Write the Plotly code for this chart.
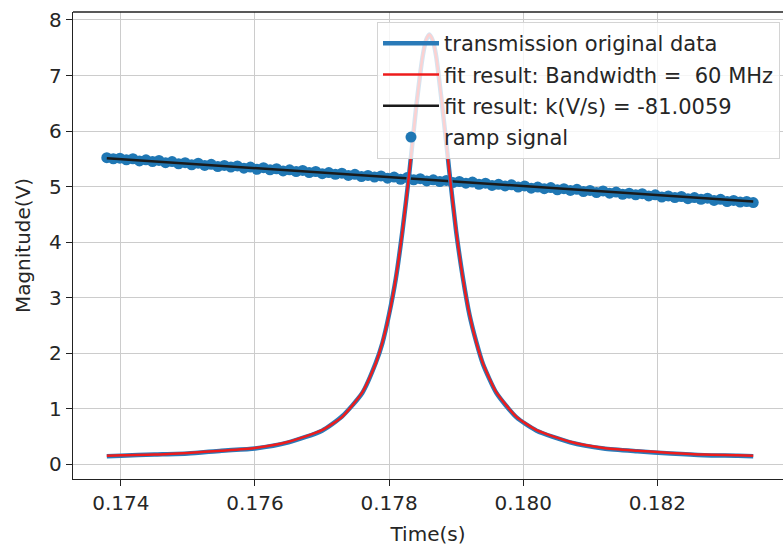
import numpy as np
import plotly.graph_objects as go

# --- Transmission peak (time in s, magnitude in V) ---
peak_time = [0.17379, 0.1740, 0.1745, 0.1750, 0.1755, 0.1760, 0.1765, 0.1770, 0.1773, 0.1776,
             0.1778, 0.1779, 0.1780, 0.1781, 0.1782, 0.1783, 0.1784, 0.1785, 0.17855, 0.1786,
             0.17865, 0.1787, 0.1788, 0.1789, 0.1790, 0.1791, 0.1792, 0.1793, 0.1794, 0.1796,
             0.1799, 0.1802, 0.1807, 0.1812, 0.1817, 0.1822, 0.1827, 0.1832, 0.18343]
transmission = [0.14, 0.15, 0.17, 0.19, 0.24, 0.28, 0.39, 0.60, 0.86, 1.28,
                1.82, 2.18, 2.70, 3.34, 4.21, 5.23, 6.39, 7.34, 7.63, 7.74,
                7.63, 7.36, 6.37, 5.25, 4.19, 3.36, 2.68, 2.20, 1.80, 1.28,
                0.84, 0.60, 0.39, 0.28, 0.23, 0.19, 0.16, 0.15, 0.14]
fit_lorentz = [0.15, 0.16, 0.17, 0.20, 0.24, 0.29, 0.40, 0.61, 0.85, 1.29,
               1.81, 2.19, 2.69, 3.35, 4.20, 5.24, 6.38, 7.35, 7.64, 7.74,
               7.64, 7.35, 6.38, 5.24, 4.20, 3.35, 2.69, 2.19, 1.81, 1.29,
               0.85, 0.61, 0.40, 0.29, 0.24, 0.20, 0.17, 0.16, 0.15]

# --- Ramp signal ---
ramp_start, ramp_end = 0.17379, 0.18343
ramp_values = [5.52, 5.50, 5.51, 5.48, 5.50, 5.46, 5.48, 5.45, 5.47, 5.43,
               5.45, 5.41, 5.43, 5.39, 5.42, 5.38, 5.40, 5.36, 5.38, 5.35,
               5.37, 5.33, 5.35, 5.31, 5.34, 5.30, 5.32, 5.28, 5.30, 5.27,
               5.29, 5.25, 5.27, 5.23, 5.25, 5.22, 5.24, 5.20, 5.22, 5.18,
               5.20, 5.17, 5.19, 5.15, 5.17, 5.13, 5.16, 5.12, 5.14, 5.10,
               5.12, 5.09, 5.11, 5.07, 5.09, 5.06, 5.08, 5.04, 5.06, 5.02,
               5.04, 5.01, 5.03, 4.99, 5.01, 4.97, 4.99, 4.96, 4.98, 4.94,
               4.96, 4.93, 4.95, 4.91, 4.93, 4.89, 4.92, 4.88, 4.90, 4.86,
               4.88, 4.85, 4.87, 4.83, 4.85, 4.81, 4.83, 4.80, 4.82, 4.78,
               4.80, 4.77, 4.79, 4.75, 4.77, 4.73, 4.75, 4.72, 4.73, 4.71]
ramp_time = np.linspace(ramp_start, ramp_end, len(ramp_values))
ramp_fit_time = [ramp_start, ramp_end]
ramp_fit_values = [5.51, 4.73]

x_ticks = [0.174, 0.176, 0.178, 0.180, 0.182]
y_ticks = [0, 1, 2, 3, 4, 5, 6, 7, 8]

FONT = "DejaVu Sans"
TXT = "#262626"
fig = go.Figure()

fig.add_trace(go.Scatter(x=ramp_time, y=ramp_values, mode="markers", name="ramp signal",
                         marker=dict(color="#1f77b4", size=11, line=dict(width=0)),
                         legendrank=4, legendgroup="d"))
fig.add_trace(go.Scatter(x=ramp_fit_time, y=ramp_fit_values, mode="lines",
                         name="fit result: k(V/s) = -81.0059",
                         line=dict(color="#1a1a1a", width=2.5), legendrank=3, legendgroup="c"))
fig.add_trace(go.Scatter(x=peak_time, y=transmission, mode="lines", name="transmission original data",
                         line=dict(color="#2a7ab8", width=4.5, shape="spline", smoothing=0.6),
                         legendrank=1, legendgroup="a"))
fig.add_trace(go.Scatter(x=peak_time, y=fit_lorentz, mode="lines", name="fit result: Bandwidth =  60 MHz",
                         line=dict(color="#ee1c1c", width=2.5, shape="spline", smoothing=0.6),
                         legendrank=2, legendgroup="b"))

axis_common = dict(showline=True, linecolor="#222", linewidth=1.3, mirror=False,
                   showgrid=True, gridcolor="#cccccc", gridwidth=1.4,
                   ticks="outside", ticklen=6, tickcolor="#222", tickwidth=1.3,
                   zeroline=False, tickfont=dict(family=FONT, size=20, color=TXT))

fig.update_xaxes(range=[0.173286, 0.183874], tickvals=x_ticks,
                 ticktext=[f"{v:.3f}" for v in x_ticks],
                 title=dict(text="Time(s)", font=dict(family=FONT, size=20, color=TXT), standoff=12),
                 **axis_common)
fig.update_yaxes(range=[-0.27, 8.144], tickvals=y_ticks,
                 title=dict(text="Magnitude(V)", font=dict(family=FONT, size=20, color=TXT), standoff=13),
                 **axis_common)

fig.add_shape(type="line", xref="paper", yref="paper", x0=0, x1=1, y0=1, y1=1,
              line=dict(color="#222", width=1.3))

fig.update_layout(
    width=783, height=553,
    margin=dict(l=73, r=0, t=12, b=74),
    paper_bgcolor="white", plot_bgcolor="white",
    font=dict(family=FONT, size=20, color=TXT),
    legend=dict(x=0.9958, y=0.9786, xanchor="right", yanchor="top",
                bgcolor="rgba(255,255,255,0.8)", bordercolor="#d4d4d4", borderwidth=1,
                font=dict(family=FONT, size=21, color=TXT),
                itemwidth=56, tracegroupgap=1, traceorder="grouped"),
    showlegend=True,
)

fig.write_html("out.html")
